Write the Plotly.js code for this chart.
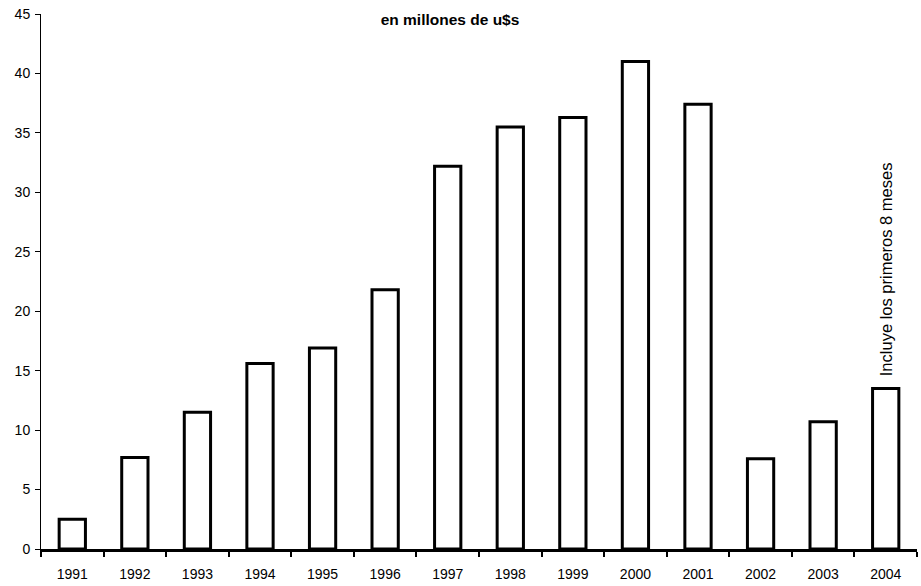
<!DOCTYPE html>
<html>
<head>
<meta charset="utf-8">
<script src="https://cdn.plot.ly/plotly-3.0.1.min.js"></script>
<style>html,body{margin:0;padding:0;background:#fff;}#chart{width:921px;height:586px;}</style>
</head>
<body>
<div id="chart"></div>
<script>
const years = ["1991","1992","1993","1994","1995","1996","1997","1998","1999","2000","2001","2002","2003","2004"];
const values = [2.5, 7.7, 11.5, 15.6, 16.9, 21.8, 32.2, 35.5, 36.3, 41.0, 37.4, 7.6, 10.7, 13.5];
const yTicks = [0,5,10,15,20,25,30,35,40,45];
const chartTitle = "en millones de u$s";
const noteText = "Incluye los primeros 8 meses";
const noteYear = "2004";
const noteIdx = years.indexOf(noteYear);

const trace = {
  type: "bar",
  x: years,
  y: values,
  marker: {color: "#ffffff", line: {color: "#000000", width: 3}},
  hoverinfo: "none"
};

const layout = {
  width: 921, height: 586,
  margin: {l: 41, r: 4, t: 14, b: 37},
  paper_bgcolor: "#ffffff",
  plot_bgcolor: "#ffffff",
  bargap: 0.58,
  showlegend: false,
  font: {family: "Liberation Sans, Arial, sans-serif", size: 14, color: "#000"},
  title: {text: "<b>" + chartTitle + "</b>", x: 0.4886, xanchor: "center", xref: "container",
          y: 0.966, yanchor: "middle", yref: "container",
          font: {size: 15.5, family: "Liberation Sans, Arial, sans-serif", color: "#000"}},
  xaxis: {
    type: "category",
    range: [-0.5, years.length - 0.5],
    autorange: false,
    showline: true, linecolor: "#000", linewidth: 3,
    ticks: "outside", ticklen: 5, tickwidth: 2, tickcolor: "#000",
    tickson: "boundaries",
    tickangle: 0,
    ticklabelstandoff: 10,
    showgrid: false, zeroline: false,
    tickfont: {size: 14}
  },
  yaxis: {
    range: [0, 45],
    autorange: false,
    tickvals: yTicks,
    showline: true, linecolor: "#000", linewidth: 1,
    ticks: "outside", ticklen: 5, tickwidth: 1, tickcolor: "#000",
    ticklabelstandoff: 2,
    showgrid: false, zeroline: false,
    tickfont: {size: 14}
  },
  annotations: [{
    x: noteIdx, y: values[noteIdx],
    xref: "x", yref: "y",
    text: noteText, textangle: -90,
    showarrow: false, xanchor: "center", yanchor: "bottom", yshift: 10,
    font: {size: 16.5, color: "#000"}
  }]
};

Plotly.newPlot("chart", [trace], layout, {displayModeBar: false, staticPlot: true});
</script>
</body>
</html>
